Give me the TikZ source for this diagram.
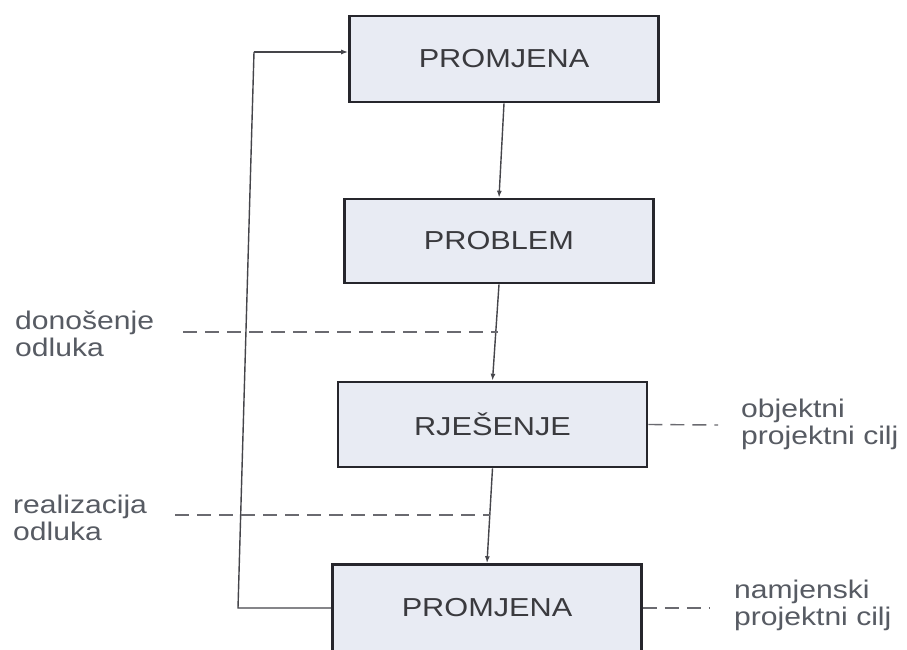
\documentclass[tikz,border=0pt]{standalone}
\usepackage{fontspec}
\setmainfont{Liberation Sans}[FakeStretch=1.18]
\usetikzlibrary{arrows.meta}
\definecolor{boxfill}{HTML}{E8EBF3}
\definecolor{boxline}{HTML}{26262C}
\definecolor{boxtext}{HTML}{3A3A3E}
\definecolor{labtext}{HTML}{575B63}
\definecolor{conn}{HTML}{45454A}
\definecolor{dashc}{HTML}{6A6A70}
\tikzset{
  stepbox/.style={draw=boxline, fill=boxfill, line width=2.6pt, minimum width=309pt,
    inner sep=0pt, text=boxtext, font=\fontsize{26}{28}\selectfont},
  flow/.style={draw=conn, line width=1.4pt, -{Latex[length=7pt,width=5pt]}},
  feed/.style={draw=conn, line width=1.4pt},
  dashline/.style={draw=dashc, line width=1.4pt, dash pattern=on 14pt off 8pt},
  lab/.style={anchor=west, align=left, inner sep=0pt, text=labtext,
    font=\fontsize{25.5}{27}\selectfont}
}
\begin{document}
\begin{tikzpicture}[x=1pt,y=-1pt]
\useasboundingbox (0,0) rectangle (907,650);
\fill[white] (0,0) rectangle (907,650);
% boxes
\node[stepbox, minimum height=86pt] (b1) at (504,59) {PROMJENA};
\node[stepbox, minimum height=84pt] (b2) at (499,241) {PROBLEM};
\node[stepbox, minimum height=85pt] (b3) at (492.5,424.5) {RJEŠENJE};
\node[stepbox, minimum height=87pt] (b4) at (487,608) {PROMJENA};
% main flow
\draw[flow] (b1.south) -- (b2.north);
\draw[flow] (b2.south) -- (b3.north);
\draw[flow] (b3.south) -- (b4.north);
% feedback loop
\coordinate (fbb) at (238,608);
\coordinate (fbt) at (254,52);
\draw[feed] (b4.west) -- (fbb) -- (fbt);
\draw[flow] (fbt) -- ([yshift=7pt]b1.west);
% left dashed markers
\coordinate (d1) at (183,332);
\coordinate (d1e) at (498,332);
\draw[dashline] (d1) -- (d1e);
\coordinate (d2) at (175,515);
\coordinate (d2e) at (490,515);
\draw[dashline] (d2) -- (d2e);
\node[lab] (l1) at (15,334) {donošenje\\odluka};
\node[lab] (l2) at (13,518) {realizacija\\odluka};
% right dashed markers
\coordinate (r1) at (718,425);
\draw[dashline] (b3.east) -- (r1);
\coordinate (r2) at (710,608);
\draw[dashline] (b4.east) -- (r2);
\node[lab] (l3) at (741,424) {objektni\\projektni cilj};
\node[lab] (l4) at (734,605) {namjenski\\projektni cilj};
\end{tikzpicture}
\end{document}
